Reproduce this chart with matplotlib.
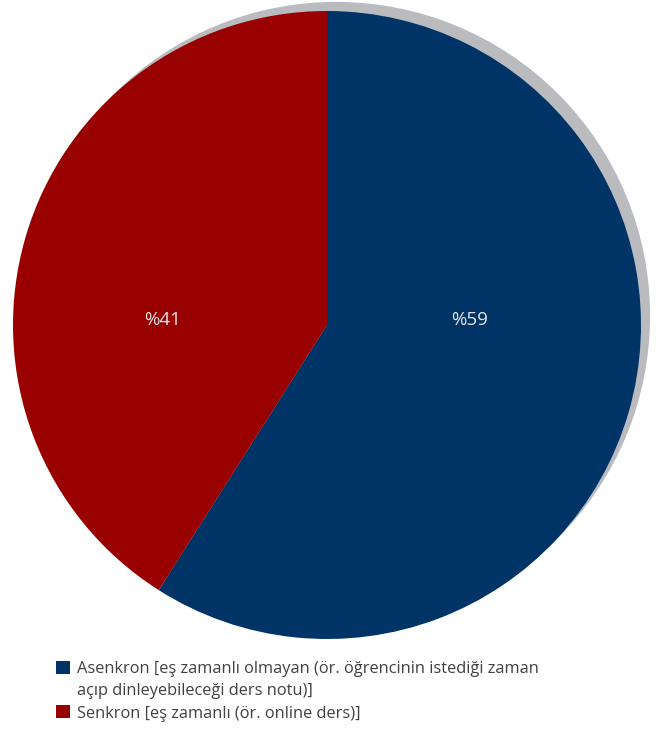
import matplotlib
matplotlib.use("Agg")
import matplotlib.pyplot as plt
from matplotlib.patches import Circle, Patch

legend_lines = ["Asenkron [eş zamanlı olmayan (ör. öğrencinin istediği zaman",
                "açıp dinleyebileceği ders notu)]",
                "Senkron [eş zamanlı (ör. online ders)]"]
values = [59, 41]
labels = ["%59", "%41"]
colors = ["#003366", "#990000"]

plt.rcParams['font.family'] = ['Open Sans', 'DejaVu Sans']

fig = plt.figure(figsize=(6.56, 7.34), dpi=100)
ax = fig.add_axes([13/656, (734-639)/734, 628/656, 628/734])
ax.set_xlim(-1, 1)
ax.set_ylim(-1, 1)
ax.set_aspect('equal')
ax.axis('off')

shadow = Circle((0.029, 0.029), 1.0, facecolor="#babbbf", edgecolor='none', zorder=0, clip_on=False)
ax.add_patch(shadow)

wedges, _ = ax.pie(values, colors=colors, startangle=90, counterclock=False,
                   radius=1.0, wedgeprops=dict(linewidth=0), frame=False)
for w in wedges:
    w.set_zorder(1)
    w.set_clip_on(False)
ax.set_xlim(-1, 1)
ax.set_ylim(-1, 1)

ax.text(0.455, 0.015, labels[0], ha='center', va='center', color='#e6e6e6', fontsize=13.5, zorder=3)
ax.text(-0.525, 0.015, labels[1], ha='center', va='center', color='#e6e6e6', fontsize=13.5, zorder=3)

handles = [Patch(facecolor=colors[0], edgecolor='none'),
           Patch(facecolor='none', edgecolor='none'),
           Patch(facecolor=colors[1], edgecolor='none')]
leg = fig.legend(handles, legend_lines, loc='upper left', bbox_to_anchor=(56/656, 1 - 661/734),
                 frameon=False, fontsize=11.8, handlelength=0.86, handleheight=0.86,
                 handletextpad=0.4, labelspacing=0.36, borderaxespad=0, borderpad=0,
                 labelcolor='#404040')

fig.savefig("out.png", dpi=100)
